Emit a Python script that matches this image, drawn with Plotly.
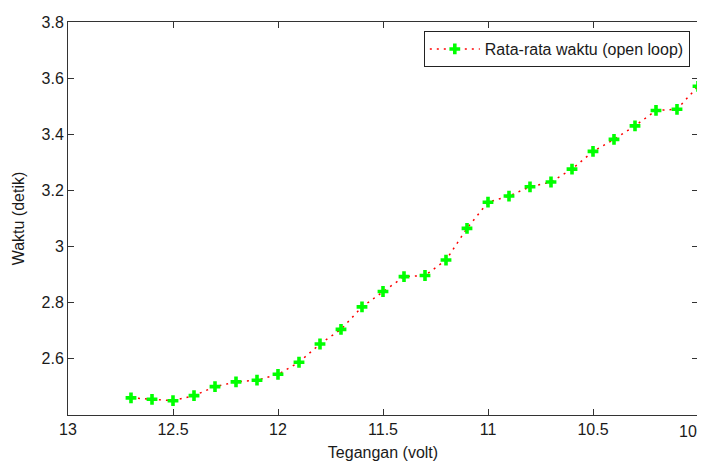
import plotly.graph_objects as go

tegangan = [12.7, 12.6, 12.5, 12.4, 12.3, 12.2, 12.1, 12.0, 11.9, 11.8, 11.7, 11.6, 11.5, 11.4,
            11.3, 11.2, 11.1, 11.0, 10.9, 10.8, 10.7, 10.6, 10.5, 10.4, 10.3, 10.2, 10.1, 10.0]
waktu = [2.461, 2.456, 2.451, 2.469, 2.501, 2.518, 2.524, 2.545, 2.588, 2.653, 2.705, 2.785, 2.840, 2.893,
         2.897, 2.952, 3.065, 3.158, 3.180, 3.213, 3.230, 3.276, 3.339, 3.382, 3.430, 3.485, 3.489, 3.571]

x_ticks = [13, 12.5, 12, 11.5, 11, 10.5, 10]
x_labels = ["13", "12.5", "12", "11.5", "11", "10.5", "10"]
y_ticks = [2.6, 2.8, 3.0, 3.2, 3.4, 3.6, 3.8]
y_labels = ["2.6", "2.8", "3", "3.2", "3.4", "3.6", "3.8"]

FONT = "Liberation Sans, Arial, sans-serif"
TXT = "#1a1a1a"

fig = go.Figure()
fig.add_trace(go.Scatter(
    x=tegangan, y=waktu, mode="lines+markers",
    name="Rata-rata waktu (open loop)",
    line=dict(color="red", dash="2px,5px", width=1.5),
    marker=dict(symbol="cross", color="#00ff00", size=9, line=dict(width=0)),
))

axis_common = dict(
    showgrid=False, zeroline=False, showline=True, linecolor="#333333", linewidth=1,
    mirror="ticks", ticks="inside", ticklen=6, tickcolor="#333333",
    tickfont=dict(family=FONT, size=16, color=TXT),
)

# the last x label sits at the right edge of the page: draw it as an annotation
# anchored at its tick so it is not clipped
x_tick_text = x_labels[:-1] + [""]
fig.add_annotation(x=x_ticks[-1], xref="x", y=0, yref="paper",
                   text=x_labels[-1], showarrow=False,
                   xanchor="right", yanchor="top", xshift=1, yshift=-6,
                   font=dict(family=FONT, size=16, color=TXT))

# page body has an 8px default margin; figure sized/margined to compensate
fig.update_layout(
    width=697, height=454,
    margin=dict(l=60, r=7, t=14, b=47),
    paper_bgcolor="white", plot_bgcolor="white",
    font=dict(family=FONT, size=16, color=TXT),
    xaxis=dict(range=[13, 10], tickvals=x_ticks, ticktext=x_tick_text, automargin=False,
               title=dict(text="Tegangan (volt)", standoff=9, font=dict(size=16)), **axis_common),
    yaxis=dict(range=[2.4, 3.8], tickvals=y_ticks, ticktext=y_labels,
               title=dict(text="Waktu (detik)", standoff=12, font=dict(size=16)), **axis_common),
    legend=dict(x=0.987, y=0.977, xanchor="right", yanchor="top",
                bgcolor="white", bordercolor="#222222", borderwidth=1,
                itemwidth=50,
                font=dict(family=FONT, size=16, color=TXT)),
    showlegend=True,
)

fig.write_html("out.html")
